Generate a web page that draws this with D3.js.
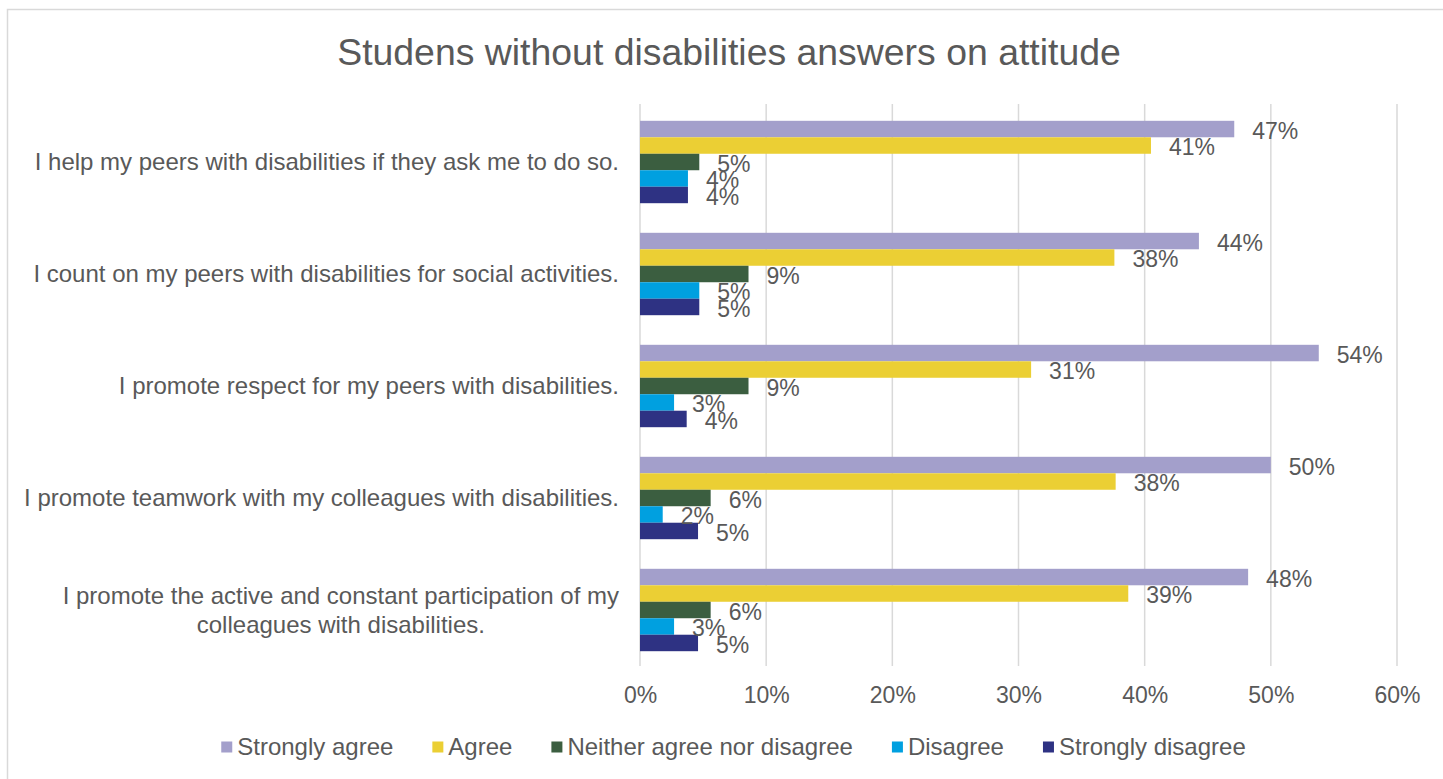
<!DOCTYPE html>
<html>
<head>
<meta charset="utf-8">
<script src="https://cdn.jsdelivr.net/npm/d3@7/dist/d3.min.js"></script>
<style>
  html, body { margin: 0; padding: 0; background: #ffffff; }
  svg { display: block; font-family: "Liberation Sans", Arial, sans-serif; }
</style>
</head>
<body>
<svg id="chart" width="1443" height="779"></svg>
<script>
// Survey statements (top to bottom)
const categories = [
  "I help my peers with disabilities if they ask me to do so.",
  "I count on my peers with disabilities for social activities.",
  "I promote respect for my peers with disabilities.",
  "I promote teamwork with my colleagues with disabilities.",
  "I promote the active and constant participation of my\ncolleagues with disabilities."
];

// Response options, in drawing order within each statement
const seriesNames = ["Strongly agree", "Agree", "Neither agree nor disagree", "Disagree", "Strongly disagree"];
const seriesColors = ["#a39fcb", "#ebcf34", "#3b5e40", "#00a0e0", "#2e3283"];

// Share of answers per statement (fractions)
const stronglyAgree    = [0.471, 0.443, 0.538, 0.500, 0.482];
const agree            = [0.405, 0.376, 0.310, 0.377, 0.387];
const neither          = [0.047, 0.086, 0.086, 0.056, 0.056];
const disagree         = [0.038, 0.047, 0.027, 0.018, 0.027];
const stronglyDisagree = [0.038, 0.047, 0.037, 0.046, 0.046];

const seriesValues = [stronglyAgree, agree, neither, disagree, stronglyDisagree];

const xTicks = [0, 0.1, 0.2, 0.3, 0.4, 0.5, 0.6];
const chartTitle = "Studens without disabilities answers on attitude";

const textColor = "#595959";
const gridColor = "#d9d9d9";

const svg = d3.select("#chart");

// Chart frame
svg.append("rect")
  .attr("x", 7.5).attr("y", 9.5)
  .attr("width", 1460).attr("height", 800)
  .attr("fill", "#ffffff")
  .attr("stroke", gridColor)
  .attr("stroke-width", 1.5);

// Title
svg.append("text")
  .attr("x", 729).attr("y", 65)
  .attr("text-anchor", "middle")
  .attr("font-size", 37.4)
  .attr("fill", textColor)
  .text(chartTitle);

// Scales
const x = d3.scaleLinear().domain([0, 0.6]).range([640, 1397]);
const y = d3.scaleBand().domain(categories).range([106, 666]);
const ySub = d3.scaleBand().domain(seriesNames).range([14.8, y.bandwidth() - 14.8]);

// Vertical gridlines
svg.append("g")
  .selectAll("line")
  .data(xTicks)
  .join("line")
  .attr("x1", d => x(d)).attr("x2", d => x(d))
  .attr("y1", 104).attr("y2", 666)
  .attr("stroke", gridColor)
  .attr("stroke-width", 1.5);

// X axis tick labels
const xAxis = d3.axisBottom(x)
  .tickValues(xTicks)
  .tickFormat(d3.format(".0%"))
  .tickSize(0)
  .tickPadding(0);

const xAxisG = svg.append("g")
  .attr("transform", "translate(0,695)")
  .call(xAxis);
xAxisG.select(".domain").remove();
xAxisG.selectAll("text")
  .attr("font-size", 23)
  .attr("font-family", "Liberation Sans, Arial, sans-serif")
  .attr("fill", textColor)
  .attr("dy", "0.35em");

// Category labels (right edge near the plot, multi-line ones centred)
const catG = svg.append("g");
categories.forEach(cat => {
  const lines = cat.split("\n");
  const cy = y(cat) + y.bandwidth() / 2;
  const lineH = 29;
  const t = catG.append("text")
    .attr("font-size", 24)
    .attr("fill", textColor);
  lines.forEach((ln, i) => {
    t.append("tspan")
      .attr("y", cy + (i - (lines.length - 1) / 2) * lineH)
      .attr("dy", "0.35em")
      .text(ln);
  });
  if (lines.length === 1) {
    t.attr("text-anchor", "end").selectAll("tspan").attr("x", 619);
  } else {
    let maxW = 0;
    t.selectAll("tspan").each(function () {
      maxW = Math.max(maxW, this.getComputedTextLength());
    });
    t.attr("text-anchor", "middle").selectAll("tspan").attr("x", 619 - maxW / 2);
  }
});

// Bars
const rows = [];
categories.forEach((cat, ci) => {
  seriesNames.forEach((s, si) => {
    rows.push({ cat, series: s, color: seriesColors[si], value: seriesValues[si][ci] });
  });
});

svg.append("g")
  .selectAll("rect")
  .data(rows)
  .join("rect")
  .attr("x", x(0))
  .attr("y", d => y(d.cat) + ySub(d.series))
  .attr("width", d => x(d.value) - x(0))
  .attr("height", ySub.bandwidth())
  .attr("fill", d => d.color);

// Value labels
svg.append("g")
  .selectAll("text")
  .data(rows)
  .join("text")
  .attr("x", d => x(d.value) + 18)
  .attr("y", d => y(d.cat) + ySub(d.series) + ySub.bandwidth() / 2 + 1.5)
  .attr("dy", "0.35em")
  .attr("font-size", 23)
  .attr("fill", textColor)
  .text(d => d3.format(".0%")(d.value));

// Legend
const legendG = svg.append("g");
let lx = 0;
seriesNames.forEach((s, i) => {
  const g = legendG.append("g").attr("transform", `translate(${lx},0)`);
  g.append("rect")
    .attr("x", 0).attr("y", -5.5)
    .attr("width", 11).attr("height", 11)
    .attr("fill", seriesColors[i]);
  const t = g.append("text")
    .attr("x", 16).attr("y", 0)
    .attr("dy", "0.35em")
    .attr("font-size", 24)
    .attr("fill", textColor)
    .text(s);
  const w = 16 + t.node().getComputedTextLength();
  lx += w + 39;
});
const legendW = lx - 39;
legendG.attr("transform", `translate(${733.5 - legendW / 2},747)`);
</script>
</body>
</html>
